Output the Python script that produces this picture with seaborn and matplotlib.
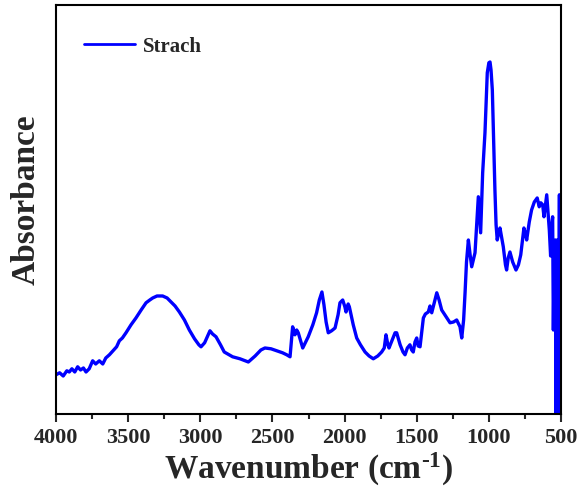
import matplotlib
matplotlib.use("Agg")
import matplotlib.pyplot as plt
import seaborn as sns
import pandas as pd
from matplotlib.ticker import MultipleLocator

wavenumber = [
    4000, 3975, 3950, 3925, 3908, 3890, 3870, 3850, 3830, 3810, 3792, 3770,
    3746, 3725, 3700, 3676, 3655, 3630, 3600, 3580, 3561, 3540, 3515, 3480,
    3446, 3410, 3376, 3350, 3330, 3300, 3261, 3230, 3203, 3175, 3145, 3110,
    3076, 3040, 3010, 2995, 2970, 2945, 2933, 2915, 2891, 2860, 2834, 2800,
    2776, 2725, 2667, 2620, 2580, 2552, 2510, 2471, 2430, 2401, 2378, 2360,
    2344, 2332, 2321, 2290, 2252, 2220, 2194, 2175, 2157, 2143, 2128, 2113,
    2090, 2066, 2045, 2032, 2013, 1998, 1990, 1975, 1967, 1940, 1916, 1890,
    1858, 1830, 1801, 1770, 1743, 1725, 1713, 1700, 1692, 1670, 1650, 1639,
    1615, 1595, 1581, 1565, 1547, 1535, 1524, 1512, 1500, 1490, 1477, 1454,
    1440, 1420, 1408, 1396, 1361, 1345, 1327, 1300, 1269, 1245, 1223, 1200,
    1188, 1175, 1165, 1155, 1142, 1130, 1119, 1096, 1073, 1065, 1057, 1043,
    1027, 1011, 1000, 992, 985, 976, 967, 958, 950, 942, 932, 923,
    900, 885, 877, 866, 854, 835, 812, 795, 779, 757, 745, 738,
    720, 704, 685, 665, 651, 640, 627, 618, 608, 599, 590, 581,
    572, 565, 558, 553, 547, 539, 534, 530, 525, 518, 511, 508, 504,
]
absorbance = [
    0.098, 0.103, 0.095, 0.108, 0.105, 0.113, 0.105, 0.118, 0.110, 0.115, 0.105, 0.113,
    0.133, 0.125, 0.133, 0.125, 0.140, 0.148, 0.160, 0.168, 0.183, 0.190, 0.203, 0.223,
    0.240, 0.260, 0.278, 0.285, 0.290, 0.295, 0.295, 0.290, 0.280, 0.270, 0.255, 0.235,
    0.210, 0.188, 0.173, 0.168, 0.178, 0.198, 0.208, 0.200, 0.193, 0.173, 0.155, 0.148,
    0.143, 0.138, 0.130, 0.145, 0.160, 0.165, 0.163, 0.158, 0.153, 0.148, 0.143, 0.218,
    0.198, 0.210, 0.203, 0.165, 0.193, 0.223, 0.253, 0.285, 0.305, 0.273, 0.230, 0.203,
    0.208, 0.215, 0.248, 0.278, 0.285, 0.268, 0.255, 0.275, 0.268, 0.223, 0.190, 0.173,
    0.155, 0.145, 0.138, 0.145, 0.155, 0.165, 0.198, 0.173, 0.165, 0.185, 0.203, 0.203,
    0.173, 0.155, 0.148, 0.165, 0.173, 0.160, 0.155, 0.180, 0.190, 0.170, 0.168, 0.240,
    0.250, 0.255, 0.270, 0.253, 0.303, 0.285, 0.260, 0.245, 0.228, 0.230, 0.235, 0.218,
    0.190, 0.235, 0.303, 0.380, 0.435, 0.398, 0.368, 0.403, 0.543, 0.498, 0.453, 0.603,
    0.703, 0.853, 0.878, 0.880, 0.860, 0.810, 0.685, 0.560, 0.473, 0.435, 0.453, 0.465,
    0.418, 0.373, 0.360, 0.390, 0.405, 0.380, 0.360, 0.373, 0.398, 0.465, 0.448, 0.435,
    0.480, 0.510, 0.530, 0.540, 0.518, 0.528, 0.523, 0.493, 0.523, 0.548, 0.505, 0.460,
    0.395, 0.468, 0.493, 0.210, 0.410, 0.435, -0.100, 0.285, 0.435, -0.100, 0.548, -0.100, -0.100,
]
series_label = "Strach"

df = pd.DataFrame({"Wavenumber": wavenumber, "Absorbance": absorbance})

sns.set_style("ticks")
plt.rcParams["font.family"] = ["Liberation Serif", "DejaVu Serif"]
plt.rcParams["font.weight"] = "bold"
plt.rcParams["mathtext.fontset"] = "custom"
plt.rcParams["mathtext.rm"] = "Liberation Serif:bold"
plt.rcParams["mathtext.bf"] = "Liberation Serif:bold"
plt.rcParams["mathtext.it"] = "Liberation Serif:bold"

fig = plt.figure(figsize=(5.78, 4.98), dpi=100)
ax = fig.add_axes([0.0969, 0.1687, 0.8737, 0.8213])

sns.lineplot(data=df, x="Wavenumber", y="Absorbance", ax=ax, color="#0000ff",
             linewidth=2.4, label=series_label, sort=False, estimator=None)

ax.set_xlim(4000, 500)
ax.set_ylim(0, 1.0225)
ax.xaxis.set_major_locator(MultipleLocator(500))
ax.xaxis.set_minor_locator(MultipleLocator(250))
ax.set_yticks([])
ax.tick_params(axis="x", which="major", direction="out", length=6, width=1.5,
               labelsize=16, pad=4)
ax.tick_params(axis="x", which="minor", direction="out", length=3.5, width=1.5)
for lab in ax.get_xticklabels():
    lab.set_fontweight("bold")
for sp in ax.spines.values():
    sp.set_visible(True)
    sp.set_linewidth(1.5)
    sp.set_color("black")

ax.set_xlabel(r"Wavenumber (cm$^{\text{-1}}$)", fontsize=24, fontweight="bold", labelpad=2)
ax.set_ylabel("Absorbance", fontsize=24, fontweight="bold")
ax.yaxis.set_label_coords(-0.028, 0.523)

leg = ax.legend(loc="center left", bbox_to_anchor=(0.0554, 0.898), frameon=False,
                borderpad=0, borderaxespad=0, handlelength=2.45, handletextpad=0.4,
                prop={"family": "Liberation Serif", "weight": "bold", "size": 15})
for line in leg.get_lines():
    line.set_linewidth(2.0)

fig.savefig("out.png", dpi=100)
